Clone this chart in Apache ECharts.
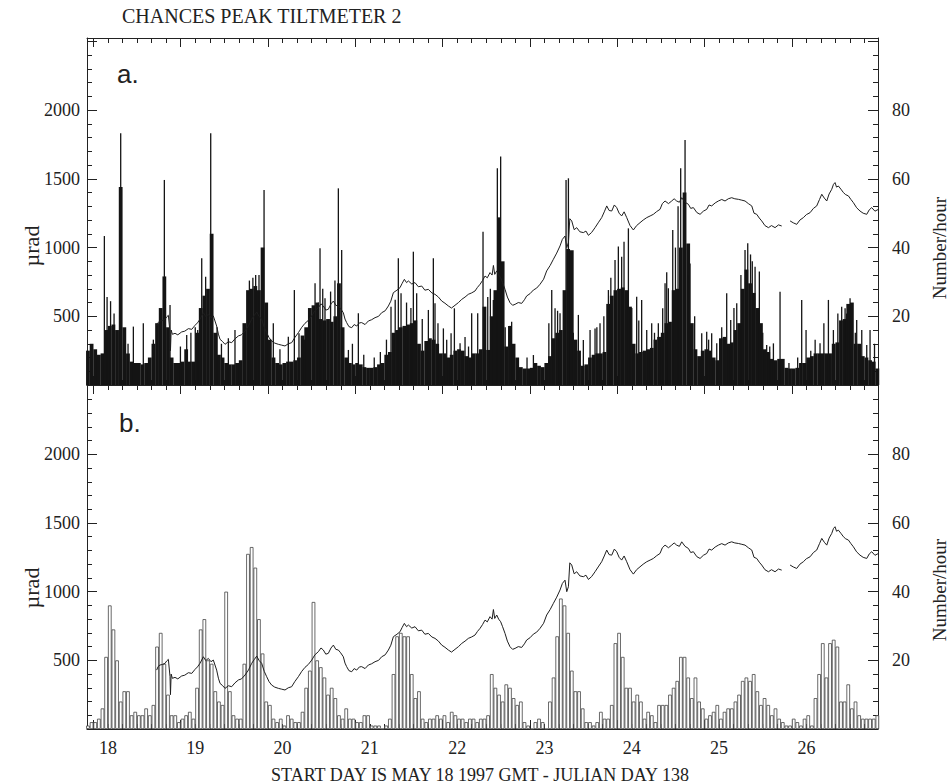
<!DOCTYPE html>
<html>
<head>
<meta charset="utf-8">
<title>Chances Peak Tiltmeter 2</title>
<script src="https://cdn.jsdelivr.net/npm/echarts@6/dist/echarts.min.js"></script>
<style>
  html, body { margin: 0; padding: 0; background: #fff; }
  #main { width: 949px; height: 784px; }
</style>
</head>
<body>
<div id="main"></div>
<script>
// hourly bins start at day 17, 18:00 GMT
var startDay = 17.75;
var dayLabels = [18, 19, 20, 21, 22, 23, 24, 25, 26];

// panel a: hourly amplitude (urad), the solid black mass
var ampA = [
  250,300,260,220,230,400,430,440,400,1440,
  420,230,170,160,160,150,160,200,300,450,
  560,790,420,200,160,160,170,260,170,170,
  380,560,650,700,1100,380,220,200,160,150,
  150,160,180,450,690,700,720,690,1000,600,
  330,200,160,150,160,170,170,180,200,360,
  420,560,580,600,480,470,480,460,500,740,
  420,200,160,150,160,150,130,125,125,130,
  150,160,220,240,380,400,420,430,440,450,
  470,300,250,320,340,330,300,230,230,200,
  220,250,260,250,210,200,230,230,260,570,
  255,500,690,1220,900,280,430,300,200,130,
  120,120,125,160,140,130,160,210,340,380,
  400,690,990,980,330,250,140,150,200,220,
  230,230,240,590,650,690,700,710,690,570,
  300,230,240,250,260,270,330,350,380,450,
  460,690,700,1000,1400,1030,450,260,210,250,
  260,250,200,180,340,350,300,310,400,450,
  700,840,740,670,560,450,260,240,190,180,
  190,190,125,120,120,125,160,160,200,210,
  230,230,230,230,230,300,310,470,480,590,
  600,300,300,210,200,180,170,120
];

// panel a: thin spikes [day, urad]
var spikesA = [
  [17.959,1084],[17.990,640],[18.030,610],[18.070,520],[18.146,1832],[18.230,300],
  [18.291,425],[18.405,449],[18.520,330],[18.560,420],[18.600,520],[18.646,1492],
  [18.711,582],[18.830,280],[18.902,364],[18.950,380],[19.000,420],[19.028,400],
  [19.074,922],[19.119,788],[19.177,1832],[19.250,420],[19.300,300],[19.379,340],
  [19.455,400],[19.550,360],[19.620,760],[19.660,780],[19.692,800],[19.730,800],
  [19.788,1419],[19.894,449],[19.970,260],[20.066,352],[20.135,691],[20.188,376],
  [20.250,330],[20.310,500],[20.372,740],[20.410,600],[20.429,995],[20.460,700],
  [20.486,631],[20.550,680],[20.600,760],[20.639,1431],[20.677,983],[20.754,255],
  [20.800,300],[20.868,522],[20.930,220],[21.050,200],[21.120,240],[21.190,330],
  [21.242,570],[21.290,620],[21.326,922],[21.357,667],[21.420,600],[21.470,560],
  [21.498,970],[21.536,667],[21.600,480],[21.670,546],[21.727,922],[21.746,594],
  [21.780,450],[21.842,412],[21.880,330],[21.930,376],[21.968,558],[22.033,303],
  [22.090,350],[22.130,280],[22.166,522],[22.235,522],[22.296,1116],[22.350,640],
  [22.380,700],[22.414,619],[22.460,1577],[22.498,1662],[22.550,420],[22.624,461],
  [22.700,180],[22.800,200],[22.873,218],[23.050,450],[23.083,691],[23.121,558],
  [23.150,540],[23.178,522],[23.247,1492],[23.274,1504],[23.330,380],[23.388,510],
  [23.445,327],[23.522,400],[23.579,412],[23.600,420],[23.636,449],[23.680,500],
  [23.732,691],[23.760,780],[23.808,910],[23.846,1007],[23.884,934],[23.911,1043],
  [23.961,1140],[24.000,560],[24.056,643],[24.080,470],[24.113,619],[24.171,400],
  [24.228,449],[24.260,380],[24.304,449],[24.354,558],[24.381,741],[24.400,820],
  [24.419,704],[24.469,1128],[24.500,1000],[24.530,1300],[24.560,1577],[24.610,1783],
  [24.640,800],[24.667,885],[24.720,500],[24.801,376],[24.858,388],[24.880,330],
  [24.915,376],[24.973,303],[25.030,420],[25.087,667],[25.133,473],[25.170,560],
  [25.202,594],[25.250,800],[25.297,983],[25.328,1031],[25.360,950],[25.380,900],
  [25.412,861],[25.461,825],[25.500,380],[25.545,291],[25.580,280],[25.622,303],
  [25.698,679],[25.800,160],[25.900,200],[25.946,619],[25.996,400],[26.050,250],
  [26.100,330],[26.156,303],[26.200,450],[26.252,619],[26.309,400],[26.360,520],
  [26.404,570],[26.443,558],[26.460,520],[26.500,631],[26.560,380],[26.576,473],
  [26.634,400],[26.691,291],[26.729,400],[26.780,300]
];

// panel b: events per hour
var countB = [
  1,2,2,3,6,21,36,29,20,8,11,11,4,
  5,4,4,6,4,7,24,28,19,10,
  4,4,2,3,4,5,3,12,29,32,
  20,19,11,8,7,40,11,4,3,3,
  19,51,53,47,32,22,8,7,3,2,
  3,1,4,3,2,2,5,12,17,37,
  20,18,15,10,12,9,4,3,6,3,
  3,2,2,4,4,1,1,1,0,1,
  3,16,27,28,27,27,16,9,11,3,
  2,3,3,4,3,4,2,5,4,3,
  3,2,3,3,2,3,
  3,4,16,12,10,8,13,12,9,7,
  8,2,1,0,2,3,2,0,8,15,
  27,38,36,28,17,11,11,6,2,2,
  1,2,5,3,3,7,25,28,21,12,
  12,8,10,8,3,5,4,2,7,
  7,7,10,12,14,21,21,15,9,15,
  8,6,3,4,5,7,3,5,6,
  6,8,10,14,15,14,16,11,7,9,
  7,4,6,3,2,1,1,3,2,
  1,3,4,1,9,16,25,15,25,26,
  24,8,8,13,6,8,4,3,3,3,
  3,4
];

// tilt [day, urad], same trace in both panels; '-' marks a data gap
var tilt = [
  [18.558,429],[18.575,455],[18.596,466],[18.625,470],[18.654,478],[18.672,495],[18.692,507],
  [18.711,381],[18.716,250],[18.724,400],[18.738,369],[18.768,376],[18.800,365],[18.844,386],
  [18.880,392],[18.921,410],[18.960,405],[18.997,434],[19.025,452],[19.054,478],[19.093,526],
  [19.120,498],[19.150,514],[19.180,490],[19.207,502],[19.245,429],[19.265,370],[19.284,332],
  [19.310,318],[19.341,296],[19.380,315],[19.417,308],[19.455,336],[19.494,357],[19.530,365],
  [19.570,393],[19.610,430],[19.646,478],[19.675,505],[19.704,531],[19.730,500],[19.761,478],
  [19.790,420],[19.818,381],[19.845,345],[19.875,320],[19.910,305],[19.952,296],[19.990,290],
  [20.028,284],[20.065,300],[20.104,308],[20.140,345],[20.181,381],[20.220,420],[20.257,449],
  [20.295,470],[20.334,502],[20.370,540],[20.410,563],[20.440,590],[20.467,575],[20.495,545],
  [20.524,551],[20.555,590],[20.582,611],[20.610,580],[20.639,575],[20.665,555],[20.696,526],
  [20.715,480],[20.734,454],[20.760,425],[20.792,417],[20.820,440],[20.849,429],[20.880,452],
  [20.906,454],[20.945,440],[20.983,466],[21.020,475],[21.059,490],[21.100,500],[21.135,526],
  [21.175,540],[21.212,575],[21.240,610],[21.269,672],[21.310,690],[21.345,708],[21.370,740],
  [21.395,769],[21.420,745],[21.441,757],[21.480,735],[21.517,745],[21.555,715],[21.594,720],
  [21.630,690],[21.670,696],[21.710,670],[21.746,660],[21.785,640],[21.823,611],[21.860,595],
  [21.899,575],[21.935,560],[21.975,580],[22.015,600],[22.052,623],[22.090,640],[22.128,660],
  [22.165,670],[22.204,684],[22.232,710],[22.262,733],[22.290,760],[22.319,793],[22.345,780],
  [22.376,818],[22.400,800],[22.415,870],[22.430,805],[22.453,830],[22.475,800],[22.498,781],
  [22.520,745],[22.548,696],[22.575,640],[22.605,599],[22.635,580],[22.663,587],[22.700,600],
  [22.739,594],[22.770,620],[22.796,648],[22.835,665],[22.873,691],[22.910,705],[22.949,733],
  [22.990,770],[23.025,830],[23.065,870],[23.102,915],[23.140,960],[23.178,1012],[23.205,1060],
  [23.235,1084],[23.255,1000],[23.274,1036],[23.290,1210],[23.312,1194],[23.340,1130],[23.369,1145],
  [23.405,1115],[23.445,1109],[23.475,1120],[23.503,1089],[23.540,1110],[23.579,1145],[23.615,1180],
  [23.655,1218],[23.685,1260],[23.713,1303],[23.740,1270],[23.770,1266],[23.800,1310],[23.827,1291],
  [23.855,1250],[23.884,1230],[23.912,1260],[23.942,1218],[23.980,1160],[24.018,1128],[24.055,1160],
  [24.094,1181],[24.130,1200],[24.171,1218],[24.210,1230],[24.247,1242],[24.285,1262],[24.323,1278],
  [24.350,1320],[24.381,1339],[24.420,1320],[24.457,1339],[24.485,1355],[24.514,1339],[24.545,1330],
  [24.572,1363],[24.610,1330],[24.648,1315],[24.675,1285],[24.705,1291],[24.745,1255],[24.782,1242],
  [24.820,1265],[24.858,1278],[24.885,1310],[24.915,1303],[24.955,1325],[24.992,1339],[25.030,1350],
  [25.068,1339],[25.105,1355],[25.144,1363],[25.180,1355],[25.221,1351],[25.260,1345],[25.297,1339],
  [25.335,1320],[25.374,1303],[25.400,1250],[25.431,1242],[25.460,1215],[25.488,1194],[25.525,1160],
  [25.565,1145],[25.600,1160],[25.641,1145],[25.680,1165],[25.717,1157],[25.765,'-'],[25.813,1194],
  [25.850,1180],[25.889,1169],[25.925,1200],[25.965,1218],[26.000,1240],[26.042,1254],[26.080,1285],
  [26.118,1303],[26.150,1350],[26.176,1388],[26.205,1360],[26.233,1339],[26.260,1390],[26.290,1424],
  [26.310,1460],[26.328,1473],[26.345,1440],[26.366,1448],[26.395,1425],[26.424,1400],[26.450,1385],
  [26.481,1376],[26.510,1350],[26.538,1327],[26.575,1290],[26.614,1266],[26.650,1250],[26.691,1242],
  [26.720,1275],[26.748,1291],[26.785,1265],[26.825,1278]
];

var X_MIN = 17.76, X_MAX = 26.82;
var SERIF = '"Liberation Serif", "Times New Roman", serif';
var INK = '#222';

// 4-hour ticks, long ones at 20:00 each day
var majorTicks = [], minorTicks = [];
for (var i = 0; i < 60; i++) {
  var t = 17 + 20 / 24 + i / 6;
  if (t > X_MIN && t < X_MAX) {
    if (i % 6 === 0) majorTicks.push(t); else minorTicks.push(t);
  }
}

function hourly(arr) {
  return arr.map(function (v, k) { return [startDay + (k + 0.5) / 24, v]; });
}

function xAx(grid, pos, ticks, len, showLine, labels) {
  return {
    type: 'value', gridIndex: grid, position: pos, min: X_MIN, max: X_MAX,
    axisLine: { show: showLine, onZero: false, lineStyle: { color: INK, width: 1 } },
    axisTick: { show: true, inside: true, length: len, customValues: ticks, lineStyle: { color: INK } },
    axisLabel: labels ? {
      show: true, customValues: dayLabels, margin: 10,
      color: INK, fontFamily: SERIF, fontSize: 18
    } : { show: false },
    splitLine: { show: false }
  };
}

function yAx(grid, pos, max, interval, len, showLine, lo, hi) {
  return {
    type: 'value', gridIndex: grid, position: pos, min: 0, max: max, interval: interval,
    axisLine: { show: showLine, onZero: false, lineStyle: { color: INK, width: 1 } },
    axisTick: { show: true, inside: true, length: len, lineStyle: { color: INK } },
    axisLabel: lo ? {
      show: true, margin: pos === 'left' ? 7 : 14,
      color: INK, fontFamily: SERIF, fontSize: 18,
      formatter: function (v) { return (v >= lo && v <= hi) ? String(v) : ''; }
    } : { show: false },
    splitLine: { show: false }
  };
}

var myChart = echarts.init(document.getElementById('main'), null, { renderer: 'svg' });

var option = {
  animation: false,
  backgroundColor: '#fff',
  grid: [
    { left: 87, top: 38, width: 791, height: 347 },
    { left: 87, top: 385, width: 791, height: 344 }
  ],
  xAxis: [
    xAx(0, 'bottom', majorTicks, 9, true, false),
    xAx(0, 'top', majorTicks, 9, true, false),
    xAx(0, 'bottom', minorTicks, 5, false, false),
    xAx(0, 'top', minorTicks, 5, false, false),
    xAx(1, 'bottom', majorTicks, 9, true, true),
    xAx(1, 'top', majorTicks, 9, true, false),
    xAx(1, 'bottom', minorTicks, 5, false, false),
    xAx(1, 'top', minorTicks, 5, false, false)
  ],
  yAxis: [
    yAx(0, 'left', 2525, 500, 10, true, 500, 2000),
    yAx(0, 'left', 2525, 100, 5, false),
    yAx(0, 'right', 101, 20, 10, true, 20, 80),
    yAx(0, 'right', 101, 4, 5, false),
    yAx(1, 'left', 2505, 500, 10, true, 500, 2000),
    yAx(1, 'left', 2505, 100, 5, false),
    yAx(1, 'right', 100.2, 20, 10, true, 20, 80),
    yAx(1, 'right', 100.2, 4, 5, false)
  ],
  series: [
    {
      type: 'bar', xAxisIndex: 0, yAxisIndex: 0, barWidth: 3.8,
      data: hourly(ampA), itemStyle: { color: '#141414' }, z: 2
    },
    {
      type: 'bar', xAxisIndex: 1, yAxisIndex: 0, barWidth: 1.3,
      data: spikesA, itemStyle: { color: '#141414' }, z: 2
    },
    {
      type: 'line', xAxisIndex: 0, yAxisIndex: 0, data: tilt, symbol: 'none',
      lineStyle: { color: '#1e1e1e', width: 1 }, z: 4
    },
    {
      type: 'bar', xAxisIndex: 4, yAxisIndex: 6, barWidth: 3.64,
      data: hourly(countB),
      itemStyle: { color: '#fff', borderColor: '#444', borderWidth: 0.8 }, z: 2
    },
    {
      type: 'line', xAxisIndex: 4, yAxisIndex: 4, data: tilt, symbol: 'none',
      lineStyle: { color: '#1e1e1e', width: 1 }, z: 4
    }
  ],
  graphic: [
    { type: 'text', x: 122, y: 16, style: { text: 'CHANCES PEAK TILTMETER 2', font: '20px ' + SERIF, fill: INK, textAlign: 'left', textVerticalAlign: 'middle' } },
    { type: 'text', x: 480, y: 775, style: { text: 'START DAY IS MAY 18 1997 GMT - JULIAN DAY 138', font: '18px ' + SERIF, fill: INK, textAlign: 'center', textVerticalAlign: 'middle' } },
    { type: 'text', x: 117, y: 74, style: { text: 'a.', font: '26px "Liberation Sans", Arial, sans-serif', fill: INK, textAlign: 'left', textVerticalAlign: 'middle' } },
    { type: 'text', x: 119, y: 423, style: { text: 'b.', font: '26px "Liberation Sans", Arial, sans-serif', fill: INK, textAlign: 'left', textVerticalAlign: 'middle' } },
    { type: 'text', x: 31, y: 246, rotation: Math.PI / 2, style: { text: 'µrad', font: '22px ' + SERIF, fill: INK, textAlign: 'center', textVerticalAlign: 'middle' } },
    { type: 'text', x: 31, y: 588, rotation: Math.PI / 2, style: { text: 'µrad', font: '22px ' + SERIF, fill: INK, textAlign: 'center', textVerticalAlign: 'middle' } },
    { type: 'text', x: 939, y: 248, rotation: Math.PI / 2, style: { text: 'Number/hour', font: '19px ' + SERIF, fill: INK, textAlign: 'center', textVerticalAlign: 'middle' } },
    { type: 'text', x: 939, y: 590, rotation: Math.PI / 2, style: { text: 'Number/hour', font: '19px ' + SERIF, fill: INK, textAlign: 'center', textVerticalAlign: 'middle' } }
  ]
};

myChart.setOption(option);
</script>
</body>
</html>
